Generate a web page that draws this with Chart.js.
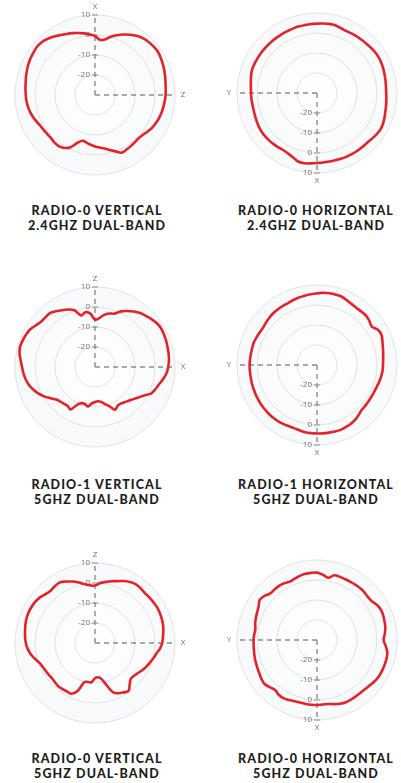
<!DOCTYPE html>
<html>
<head>
<meta charset="utf-8">
<script src="https://cdn.jsdelivr.net/npm/chart.js@4/dist/chart.umd.min.js"></script>
<style>
  html, body { margin: 0; padding: 0; background: #fff; }
  body { position: relative; width: 401px; height: 783px; overflow: hidden; }
  .plot { position: absolute; width: 200px; height: 200px; }
  .title {
    position: absolute; width: 220px; text-align: center;
    font-family: Lato, "Open Sans", sans-serif; font-weight: 900;
    font-size: 12.5px; line-height: 15px; letter-spacing: 1.1px; color: #1e1e1e;
  }
</style>
</head>
<body>
<canvas class="plot" id="c1" width="200" height="200" style="left:-5px;top:-5px"></canvas>
<canvas class="plot" id="c2" width="200" height="200" style="left:217px;top:-7px"></canvas>
<canvas class="plot" id="c3" width="200" height="200" style="left:-5px;top:267px"></canvas>
<canvas class="plot" id="c4" width="200" height="200" style="left:217px;top:265px"></canvas>
<canvas class="plot" id="c5" width="200" height="200" style="left:-5px;top:543px"></canvas>
<canvas class="plot" id="c6" width="200" height="200" style="left:217px;top:540px"></canvas>

<div class="title" style="left:-13px;top:203px">RADIO-0 VERTICAL<br>2.4GHZ DUAL-BAND</div>
<div class="title" style="left:206px;top:203px">RADIO-0 HORIZONTAL<br>2.4GHZ DUAL-BAND</div>
<div class="title" style="left:-13px;top:477px">RADIO-1 VERTICAL<br>5GHZ DUAL-BAND</div>
<div class="title" style="left:206px;top:477px">RADIO-1 HORIZONTAL<br>5GHZ DUAL-BAND</div>
<div class="title" style="left:-13px;top:751px">RADIO-0 VERTICAL<br>5GHZ DUAL-BAND</div>
<div class="title" style="left:206px;top:751px">RADIO-0 HORIZONTAL<br>5GHZ DUAL-BAND</div>

<script>
// --- Data: gain in dB every 5 degrees, clockwise from the top ---
const angles = [];
for (let a = 0; a < 360; a += 5) angles.push(a + '°');

const gridTicks = [-20, -10, 0, 10];

const radio0Vertical24 = [
  -0.5, -2.3, -1.8, 0.2, 1.8, 3.4, 4.8, 6.1, 7.1, 7.7, 8.0, 8.2,
  7.8, 7.3, 6.8, 6.3, 5.8, 5.5, 5.3, 5.0, 4.7, 4.4, 4.0, 3.5,
  2.9, 2.0, 1.1, 0.7, 0.9, 1.2, 1.5, 1.8, 0.0, -1.5, -2.8, -3.6,
  -4.3, -5.0, -5.8, -6.3, -4.6, -1.2, 0.6, 1.3, 1.3, 0.8, 0.8, 1.0,
  1.3, 2.0, 2.8, 3.5, 4.0, 4.4, 4.6, 4.9, 5.2, 5.7, 6.2, 6.7,
  7.1, 7.4, 7.7, 7.5, 6.7, 5.7, 4.6, 3.7, 2.9, 2.1, 1.3, 0.4
];

const radio0Horizontal24 = [
  4.7, 4.9, 5.1, 5.1, 4.6, 4.3, 4.4, 4.6, 4.7, 4.9, 5.2, 5.5,
  5.6, 5.5, 5.3, 5.0, 4.8, 4.6, 4.6, 4.8, 5.1, 5.4, 5.9, 6.4,
  6.6, 6.2, 5.7, 5.3, 5.3, 5.2, 5.2, 5.1, 5.0, 4.8, 4.8, 4.9,
  5.0, 5.3, 5.7, 5.6, 4.4, 3.6, 3.2, 3.3, 3.5, 3.7, 3.8, 3.8,
  3.6, 3.3, 3.0, 2.8, 2.8, 2.9, 3.0, 3.2, 3.6, 4.1, 4.5, 4.5,
  4.45, 4.4, 4.35, 4.3, 4.25, 4.25, 4.3, 4.3, 4.4, 4.5, 4.5, 4.6
];

const radio1Vertical5 = [
  -6.3, -5.5, -3.5, -2.3, -1.6, 0.7, 2.3, 3.9, 5.2, 6.1, 7.1, 7.9,
  8.3, 8.1, 7.9, 7.6, 7.4, 7.1, 6.6, 5.9, 4.6, 3.2, 2.2, 1.1,
  -1.6, -3.5, -5.0, -6.2, -7.0, -7.6, -7.5, -6.4, -9.2, -10.8, -12.3, -12.8,
  -12.5, -11.7, -10.0, -10.8, -10.8, -9.3, -5.5, -6.2, -6.0, -5.5, -4.7, -2.8,
  -0.6, 1.3, 2.9, 4.3, 5.2, 5.9, 6.5, 7.3, 8.3, 8.8, 8.5, 8.1,
  7.5, 6.2, 5.2, 5.1, 5.1, 4.0, 2.8, 1.7, 0.2, -3.3, -2.2, -3.2
];

const radio1Horizontal5 = [
  5.8, 6.3, 6.4, 6.4, 6.3, 5.6, 5.0, 4.7, 4.7, 4.8, 4.2, 3.5,
  5.2, 5.6, 4.8, 4.1, 3.6, 3.2, 3.0, 2.9, 2.6, 2.2, 1.8, 1.6,
  1.5, 1.5, 1.6, 1.7, 2.5, 3.4, 3.9, 4.2, 4.5, 4.45, 4.35, 4.3,
  4.25, 4.2, 4.1, 3.8, 3.6, 3.7, 4.0, 4.2, 4.3, 4.3, 4.25, 4.2,
  4.1, 4.0, 3.9, 3.8, 3.7, 3.7, 3.7, 3.6, 3.5, 3.5, 3.5, 3.2,
  2.9, 2.8, 3.2, 3.6, 3.9, 4.0, 4.1, 4.2, 4.6, 4.9, 5.2, 5.5
];

const radio0Vertical5 = [
  -1.3, 0.1, 1.0, 2.0, 2.9, 4.2, 5.2, 5.8, 5.6, 5.3, 5.4, 5.6,
  5.8, 5.7, 5.5, 5.2, 4.7, 4.1, 3.6, 2.6, 1.1, 0.1, -0.9, -1.8,
  -2.8, -3.8, -4.5, -4.7, -3.0, -0.8, -1.5, -2.3, -3.8, -8.5, -11.8, -12.8,
  -12.4, -10.3, -10.2, -9.8, -4.5, -2.0, -2.0, -1.8, -1.6, -1.9, -2.2, -2.0,
  -1.7, -1.3, -0.6, 1.0, 2.6, 3.8, 4.6, 5.1, 5.5, 6.0, 6.4, 6.55,
  6.5, 6.3, 5.7, 4.7, 4.3, 4.8, 5.0, 3.9, 2.7, 1.3, -0.1, -1.0
];

const radio0Horizontal5 = [
  3.7, 2.8, 1.6, 3.5, 3.6, 3.5, 3.5, 3.6, 3.7, 3.6, 3.3, 3.6,
  4.8, 5.4, 5.3, 5.0, 4.7, 4.0, 3.3, 4.5, 5.7, 6.0, 6.0, 6.0,
  5.9, 5.5, 4.9, 4.4, 4.2, 4.2, 4.3, 4.3, 3.9, 3.2, 2.5, 2.4,
  2.5, 2.5, 2.45, 2.4, 2.6, 3.1, 3.6, 3.4, 2.6, 3.4, 4.2, 3.9,
  3.3, 2.9, 2.6, 2.3, 2.0, 1.8, 1.7, 1.5, 1.3, 2.0, 2.5, 3.0,
  3.7, 5.0, 4.3, 3.0, 3.0, 3.05, 2.8, 2.2, 2.6, 3.2, 3.6, 3.7
];

// --- Disk shading + dashed axes with dB ticks ---
const axesPlugin = {
  id: 'axes',
  beforeDatasetsDraw(chart, args, opts) {
    const r = chart.scales.r;
    const ctx = chart.ctx;
    const cx = r.xCenter, cy = r.yCenter;
    const dirs = { up: [0, -1], down: [0, 1], left: [-1, 0], right: [1, 0] };
    const rMax = r.getDistanceFromCenterForValue(10);

    ctx.save();
    ctx.strokeStyle = '#8c8c8c';
    ctx.lineWidth = 1.4;
    ctx.setLineDash([5, 4]);
    opts.axes.forEach(a => {
      const [dx, dy] = dirs[a.dir];
      ctx.beginPath();
      ctx.moveTo(cx, cy);
      ctx.lineTo(cx + dx * rMax, cy + dy * rMax);
      ctx.stroke();
    });
    ctx.setLineDash([]);

    ctx.fillStyle = '#6e6e6e';
    ctx.font = '8px "Open Sans", sans-serif';
    ctx.textBaseline = 'middle';
    ctx.textAlign = 'center';
    opts.axes.forEach(a => {
      const [dx, dy] = dirs[a.dir];
      const d = rMax + 8;
      ctx.fillText(a.label, cx + dx * d, cy + dy * d);
    });

    // tick marks and values along the tick axis
    const [tx, ty] = dirs[opts.tickDir];
    ctx.lineWidth = 1;
    ctx.strokeStyle = '#8c8c8c';
    ctx.textAlign = 'right';
    gridTicks.forEach(v => {
      const d = r.getDistanceFromCenterForValue(v);
      const px = cx + tx * d, py = cy + ty * d;
      ctx.beginPath();
      ctx.moveTo(px - 3, py);
      ctx.lineTo(px + 3, py);
      ctx.stroke();
      ctx.fillText(String(v), px - 5, py);
    });
    ctx.restore();
  },
  beforeDraw(chart) {
    const r = chart.scales.r;
    const ctx = chart.ctx;
    const rad = r.getDistanceFromCenterForValue(10);
    ctx.save();
    const g = ctx.createRadialGradient(r.xCenter, r.yCenter, 0, r.xCenter, r.yCenter, rad);
    g.addColorStop(0, '#ffffff');
    g.addColorStop(1, '#f8f9fa');
    ctx.fillStyle = g;
    ctx.beginPath();
    ctx.arc(r.xCenter, r.yCenter, rad, 0, Math.PI * 2);
    ctx.fill();
    ctx.restore();
  }
};

function makePolar(id, values, axes, tickDir) {
  return new Chart(document.getElementById(id), {
    type: 'radar',
    data: {
      labels: angles,
      datasets: [{
        data: values,
        borderColor: '#e3222b',
        borderWidth: 2.6,
        pointRadius: 0,
        fill: false,
        tension: 0.35
      }]
    },
    options: {
      responsive: false,
      animation: false,
      layout: { padding: 20 },
      plugins: {
        legend: { display: false },
        tooltip: { enabled: false },
        axes: { axes: axes, tickDir: tickDir }
      },
      scales: {
        r: {
          min: -30,
          max: 10,
          ticks: { stepSize: 10, display: false },
          grid: { circular: true, color: '#e2e2e2', lineWidth: 1 },
          angleLines: { display: false },
          pointLabels: { display: false }
        }
      }
    },
    plugins: [axesPlugin]
  });
}

const vAxes = [{ dir: 'up', label: 'X' }, { dir: 'right', label: 'Z' }];
const vAxes2 = [{ dir: 'up', label: 'Z' }, { dir: 'right', label: 'X' }];
const hAxes = [{ dir: 'left', label: 'Y' }, { dir: 'down', label: 'X' }];

makePolar('c1', radio0Vertical24, vAxes, 'up');
makePolar('c2', radio0Horizontal24, hAxes, 'down');
makePolar('c3', radio1Vertical5, vAxes2, 'up');
makePolar('c4', radio1Horizontal5, hAxes, 'down');
makePolar('c5', radio0Vertical5, vAxes2, 'up');
makePolar('c6', radio0Horizontal5, hAxes, 'down');
</script>
</body>
</html>
